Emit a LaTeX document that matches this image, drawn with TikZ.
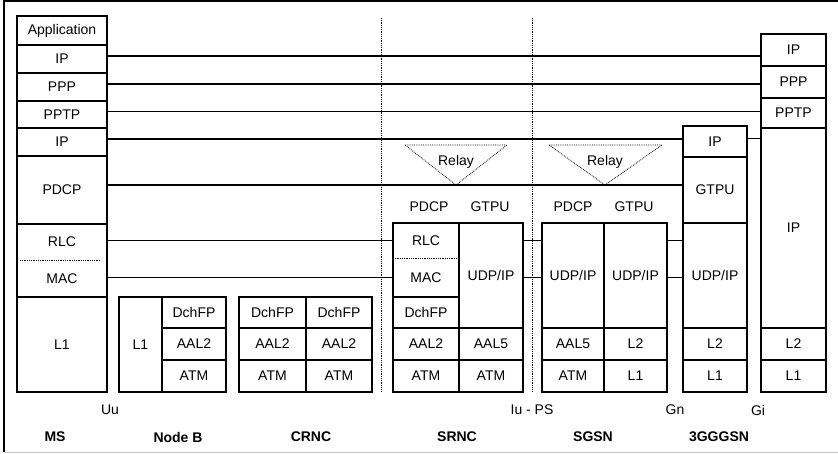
\documentclass[tikz,border=0pt]{standalone}
\usepackage{fontspec}
\setmainfont{Liberation Sans}
\usetikzlibrary{positioning}
\tikzset{
  stackbox/.style={draw, line width=1.4pt, inner sep=0pt, outer sep=0pt, minimum width=#1},
  splitbox/.style={inner sep=0pt, outer sep=0pt, minimum width=#1},
  link/.style={line width=1.1pt},
  boundary/.style={line width=0.8pt, densely dotted},
  relay/.style={line width=0.8pt, densely dotted},
  entity/.style={font=\fontsize{14}{16}\selectfont\bfseries}
}

\begin{document}
\begin{tikzpicture}[x=1pt, y=-1pt, font=\fontsize{14}{16}\selectfont]
        \useasboundingbox (0,0) rectangle (838,454);
        \draw[line width=1.4pt] (838,1) -- (4,1) -- (4,452);
        \draw[gray!45, line width=1pt] (4,452) -- (838,452);
        % MS
        \node[stackbox=90, minimum height=29, anchor=north west] (msapp) at (17,16) {Application};
        \node[stackbox=90, minimum height=28, below=0pt of msapp] (msip) {IP};
        \node[stackbox=90, minimum height=28, below=0pt of msip] (msppp) {PPP};
        \node[stackbox=90, minimum height=27, below=0pt of msppp] (mspptp) {PPTP};
        \node[stackbox=90, minimum height=28, below=0pt of mspptp] (msipb) {IP};
        \node[stackbox=90, minimum height=68, below=0pt of msipb] (mspdcp) {PDCP};
        \node[splitbox=90, minimum height=36, below=0pt of mspdcp] (msrlc) {RLC};
        \node[splitbox=90, minimum height=37, below=0pt of msrlc] (msmac) {MAC};
        \node[stackbox=90, minimum height=95, below=0pt of msmac] (msl1) {L1};
        \draw[line width=1.4pt] (msrlc.north west) rectangle (msmac.south east);
        \draw[boundary] ([xshift=3pt]msrlc.south west) -- ([xshift=-6pt]msrlc.south east);
        % Node B
        \node[stackbox=43, minimum height=95, anchor=north west] (nbl1) at (119,297) {L1};
        \node[stackbox=64, minimum height=31, anchor=north west] (nbdch) at (nbl1.north east) {DchFP};
        \node[stackbox=64, minimum height=32, below=0pt of nbdch] (nbaal) {AAL2};
        \node[stackbox=64, minimum height=32, below=0pt of nbaal] (nbatm) {ATM};
        % CRNC
        \node[stackbox=67, minimum height=31, anchor=north west] (crdcha) at (239,297) {DchFP};
        \node[stackbox=67, minimum height=32, below=0pt of crdcha] (craala) {AAL2};
        \node[stackbox=67, minimum height=32, below=0pt of craala] (cratma) {ATM};
        \node[stackbox=66, minimum height=31, anchor=north west] (crdchb) at (crdcha.north east) {DchFP};
        \node[stackbox=66, minimum height=32, below=0pt of crdchb] (craalb) {AAL2};
        \node[stackbox=66, minimum height=32, below=0pt of craalb] (cratmb) {ATM};
        % SRNC
        \node[splitbox=66, minimum height=35, anchor=north west] (srrlc) at (393,223) {RLC};
        \node[splitbox=66, minimum height=39, below=0pt of srrlc] (srmac) {MAC};
        \node[stackbox=66, minimum height=31, below=0pt of srmac] (srdch) {DchFP};
        \node[stackbox=66, minimum height=32, below=0pt of srdch] (sraal) {AAL2};
        \node[stackbox=66, minimum height=32, below=0pt of sraal] (sratm) {ATM};
        \draw[line width=1.4pt] (srrlc.north west) rectangle (srmac.south east);
        \draw[boundary] (srrlc.south west) -- (srrlc.south east);
        \node[stackbox=64, minimum height=105, anchor=north west] (srudp) at (srrlc.north east) {UDP/IP};
        \node[stackbox=64, minimum height=32, below=0pt of srudp] (sraalb) {AAL5};
        \node[stackbox=64, minimum height=32, below=0pt of sraalb] (sratmb) {ATM};
        \node (srpdcp) at (429,207) {PDCP};
        \node (srgtpu) at (490,207) {GTPU};
        % SGSN
        \node[stackbox=62, minimum height=105, anchor=north west] (sgudpa) at (542,223) {UDP/IP};
        \node[stackbox=62, minimum height=32, below=0pt of sgudpa] (sgaal) {AAL5};
        \node[stackbox=62, minimum height=32, below=0pt of sgaal] (sgatm) {ATM};
        \node[stackbox=63, minimum height=105, anchor=north west] (sgudpb) at (sgudpa.north east) {UDP/IP};
        \node[stackbox=63, minimum height=32, below=0pt of sgudpb] (sgltwo) {L2};
        \node[stackbox=63, minimum height=32, below=0pt of sgltwo] (sglone) {L1};
        \node (sgpdcp) at (573,207) {PDCP};
        \node (sggtpu) at (634,207) {GTPU};
        % 3GGGSN
        \node[stackbox=64, minimum height=31, anchor=north west] (ggip) at (683,126) {IP};
        \node[stackbox=64, minimum height=66, below=0pt of ggip] (gggtpu) {GTPU};
        \node[stackbox=64, minimum height=105, below=0pt of gggtpu] (ggudp) {UDP/IP};
        \node[stackbox=64, minimum height=32, below=0pt of ggudp] (ggltwo) {L2};
        \node[stackbox=64, minimum height=32, below=0pt of ggltwo] (gglone) {L1};
        % Gi side
        \node[stackbox=65, minimum height=32, anchor=north west] (giip) at (761,34) {IP};
        \node[stackbox=65, minimum height=32, below=0pt of giip] (gippp) {PPP};
        \node[stackbox=65, minimum height=30, below=0pt of gippp] (gipptp) {PPTP};
        \node[stackbox=65, minimum height=200, below=0pt of gipptp] (giipb) {IP};
        \node[stackbox=65, minimum height=32, below=0pt of giipb] (giltwo) {L2};
        \node[stackbox=65, minimum height=32, below=0pt of giltwo] (gilone) {L1};
        % peer links
        \draw[link] ([yshift=3pt]msip.east) -- ([yshift=3pt]msip.east -| giip.west);
        \draw[link] ([yshift=3pt]msppp.east) -- ([yshift=3pt]msppp.east -| gippp.west);
        \draw[link] ([yshift=3pt]mspptp.east) -- ([yshift=3pt]mspptp.east -| gipptp.west);
        \draw[link] ([yshift=3pt]msipb.east) -- ([yshift=3pt]msipb.east -| ggip.west);
        \draw[link] ([yshift=3pt]ggip.east) -- ([yshift=3pt]ggip.east -| giipb.west);
        \draw[link] ([yshift=5pt]mspdcp.east) -- ([yshift=5pt]mspdcp.east -| gggtpu.west);
        \draw[link] (msrlc.east |- srrlc.west) -- (srrlc.west);
        \draw[link] (msmac.east |- srmac.west) -- (srmac.west);
        \draw[link] (srrlc.west -| srudp.east) -- (srrlc.west -| sgudpa.west);
        \draw[link] (srmac.west -| srudp.east) -- (srmac.west -| sgudpa.west);
        \draw[link] (srrlc.west -| sgudpb.east) -- (srrlc.west -| ggudp.west);
        \draw[link] (srmac.west -| sgudpb.east) -- (srmac.west -| ggudp.west);
        % relays
        \draw[relay] (405,145) -- (507,145) -- (456,185) -- cycle;
        \node (srrelay) at (456,162) {Relay};
        \draw[relay] (549,145) -- (662,145) -- (605,185) -- cycle;
        \node (sgrelay) at (605,162) {Relay};
        % domain borders
        \draw[boundary] (381,18) -- (381,392);
        \draw[boundary] (532,18) -- (532,392);
        % interfaces and entities
        \node (uu) at (110,410) {Uu};
        \node (iups) at (532,410) {Iu - PS};
        \node (gn) at (675,410) {Gn};
        \node (gi) at (758,410) {Gi};
        \node[entity] (msname) at (55,437) {MS};
        \node[entity] (nbname) at (178,437) {Node B};
        \node[entity] (crname) at (311,437) {CRNC};
        \node[entity] (srname) at (457,437) {SRNC};
        \node[entity] (sgname) at (593,437) {SGSN};
        \node[entity] (ggname) at (719,437) {3GGGSN};
    \end{tikzpicture}
\end{document}
